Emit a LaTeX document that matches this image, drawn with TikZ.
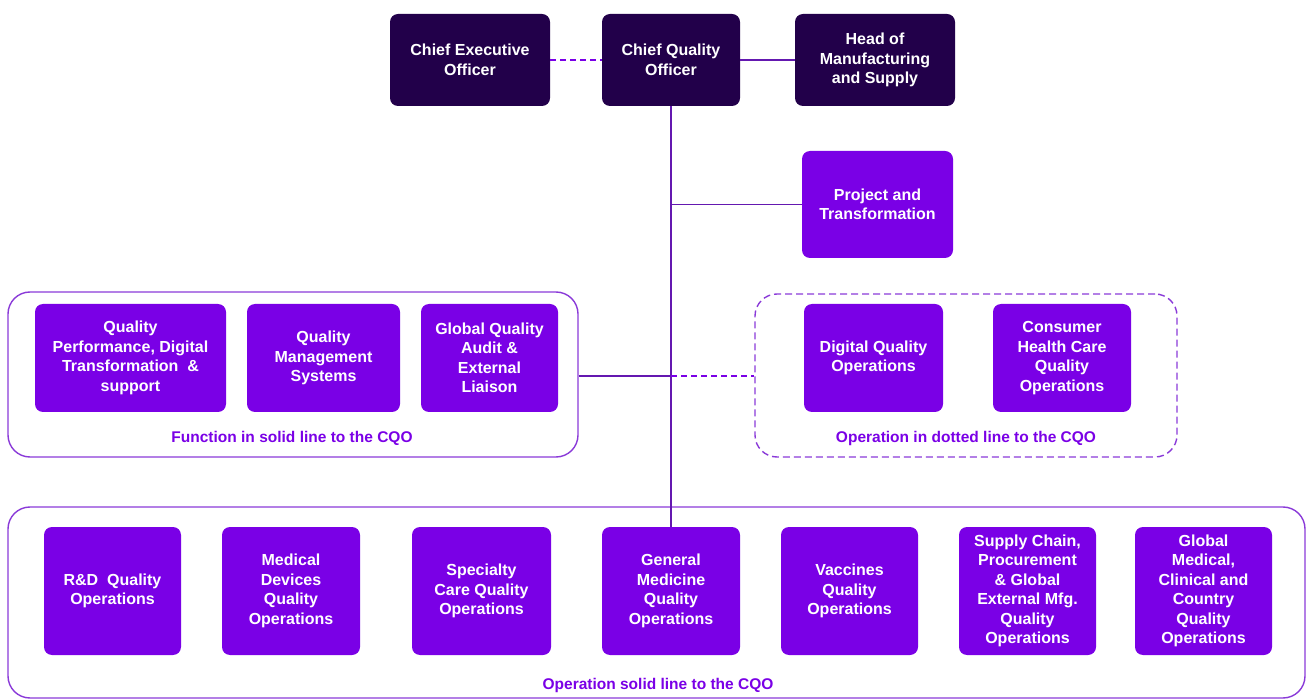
\documentclass[tikz,border=0pt]{standalone}
\usepackage{fontspec}
\setmainfont{Liberation Sans}
\definecolor{plumdark}{HTML}{22004A}
\definecolor{qpurple}{HTML}{7A00E6}
\definecolor{qline}{HTML}{6418B0}
\definecolor{qframe}{HTML}{8A3AD8}
\begin{document}
\begin{tikzpicture}[x=1pt,y=-1pt]

      \tikzset{lead/.style={draw=none, fill=plumdark, rounded corners=8pt, text=white, align=center,
                 font=\bfseries\fontsize{16}{19.5}\selectfont, inner sep=0pt},
               unit/.style={draw=none, fill=qpurple, rounded corners=8pt, text=white, align=center,
                 font=\bfseries\fontsize{16}{19.5}\selectfont, inner sep=0pt},
               group/.style={draw=qframe, line width=1.4pt, rounded corners=22pt, inner sep=0pt},
               caption/.style={text=qpurple, font=\bfseries\fontsize{15.5}{18}\selectfont},
               link/.style={draw=qline, line width=1.6pt},
               dottedlink/.style={draw=qpurple, line width=1.6pt, dash pattern=on 6pt off 4pt}}
      \useasboundingbox (0,0) rectangle (1307,700);
%% Groups
      	\node[group, minimum width=570pt, minimum height=165pt] (fgroup) at (293,374.5) {};
      	\node[group, dash pattern=on 7pt off 4pt, minimum width=422pt, minimum height=163pt] (dgroup) at (966,375.5) {};
      	\node[group, minimum width=1297pt, minimum height=191pt] (ogroup) at (656.5,602.5) {};
      	\node[caption] (fcap) at (292,438) {Function in solid line to the CQO};
      	\node[caption] (dcap) at (966,438) {Operation in dotted line to the CQO};
      	\node[caption] (ocap) at (658,685) {Operation solid line to the CQO};
%% Leadership
      	\node[lead, minimum width=160pt, minimum height=92pt] (ceo) at (470,60) {Chief Executive\\Officer};
      	\node[lead, minimum width=138pt, minimum height=92pt] (cqo) at (671,60) {Chief Quality\\Officer};
      	\node[lead, minimum width=160pt, minimum height=92pt] (hms) at (875,60) {Head of\\Manufacturing\\and Supply};
      	\node[unit, minimum width=151pt, minimum height=107pt] (pt) at (877.5,204.5) {Project and\\Transformation};
%% Functions
      	\node[unit, minimum width=191pt, minimum height=108pt] (qpd) at (130.5,358) {Quality\\Performance, Digital\\Transformation\ \ \&\\support};
      	\node[unit, minimum width=153pt, minimum height=108pt] (qms) at (323.5,358) {Quality\\Management\\Systems};
      	\node[unit, minimum width=137pt, minimum height=108pt] (gqa) at (489.5,358) {Global Quality\\Audit \&\\External\\Liaison};
%% Dotted-line operations
      	\node[unit, minimum width=139pt, minimum height=108pt] (dqo) at (873.5,358) {Digital Quality\\Operations};
      	\node[unit, minimum width=138pt, minimum height=108pt] (chc) at (1062,358) {Consumer\\Health Care\\Quality\\Operations};
%% Solid-line operations
      	\node[unit, minimum width=137pt, minimum height=128pt] (rdq) at (112.5,591) {R\&D\ \ Quality\\Operations};
      	\node[unit, minimum width=138pt, minimum height=128pt] (mdq) at (291,591) {Medical\\Devices\\Quality\\Operations};
      	\node[unit, minimum width=139pt, minimum height=128pt] (scq) at (481.5,591) {Specialty\\Care Quality\\Operations};
      	\node[unit, minimum width=138pt, minimum height=128pt] (gmq) at (671,591) {General\\Medicine\\Quality\\Operations};
      	\node[unit, minimum width=137pt, minimum height=128pt] (vqo) at (849.5,591) {Vaccines\\Quality\\Operations};
      	\node[unit, minimum width=137pt, minimum height=128pt] (spq) at (1027.5,591) {Supply Chain,\\Procurement\\\& Global\\External Mfg.\\Quality\\Operations};
      	\node[unit, minimum width=137pt, minimum height=128pt] (gmc) at (1203.5,591) {Global\\Medical,\\Clinical and\\Country\\Quality\\Operations};
%Edges
      	\coordinate (tpt) at (671,204.5);
      	\coordinate (tgrp) at (671,376);
      	\path[dottedlink] (ceo) -- (cqo);
      	\path[link] (cqo) -- (hms);
      	\path[link] (cqo) -- (gmq);
      	\path[link] (tpt) -- (pt);
      	\path[link] (fgroup.east |- tgrp) -- (tgrp);
      	\path[dottedlink] (tgrp) -- (dgroup.west |- tgrp);

	\end{tikzpicture}
\end{document}
